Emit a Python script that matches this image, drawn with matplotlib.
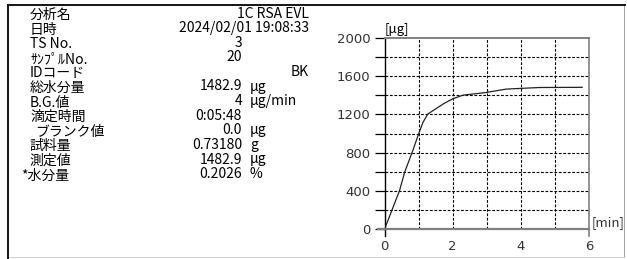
import numpy as np
import matplotlib.pyplot as plt
from matplotlib.patches import Rectangle

plt.rcParams['font.family'] = ['Noto Sans CJK JP', 'DejaVu Sans']

# report fields
labels = ['分析名', '日時', 'TS No.', 'ｻﾝﾌﾟﾙNo.', 'IDコード', '総水分量', 'B.G.値',
          '滴定時間', 'ブランク値', '試料量', '測定値', '*水分量']
values = ['1C RSA EVL', '2024/02/01 19:08:33', '3', '20', 'BK', '1482.9', '4',
          '0:05:48', '0.0', '0.73180', '1482.9', '0.2026']
units = ['', '', '', '', '', 'μg', 'μg/min', '', 'μg', 'g', 'μg', '%']

# titration curve (min, μg)
t_min = [0, 0.44, 0.59, 0.83, 1.0, 1.13, 1.27, 1.42, 1.72, 2.0, 2.3, 2.98, 3.56, 3.95, 4.54, 5.8]
water = [0, 403, 595, 821, 995, 1117, 1203, 1238, 1308, 1362, 1400, 1428, 1463, 1470, 1480, 1482]

y_ticks = [0, 400, 800, 1200, 1600, 2000]
x_ticks = [0, 2, 4, 6]

W, H = 627, 259
fig = plt.figure(figsize=(W / 100, H / 100), dpi=100)


def px_box(x, y, w, h, color):
    # filled box in pixel coords (origin top-left)
    fig.patches.append(Rectangle((x / W, 1 - (y + h) / H), w / W, h / H,
                                 transform=fig.transFigure, figure=fig,
                                 facecolor=color, edgecolor='none', zorder=10))


# sunken panel frame
px_box(7, 4, 2, 255, '#1a1a1a')
px_box(7, 4, 619, 2, '#1a1a1a')
px_box(624, 6, 1, 252, '#a0a0a0')
px_box(9, 257, 616, 1, '#d0d0d0')

# text block
lab_x = [30, 30, 30, 30, 30, 30, 30, 30, 35, 29, 29, 21]
wide = [True, True, False, False, True, False, False, False, False, False, False, False]
for i, (lab, val, unit) in enumerate(zip(labels, values, units)):
    y = 1 - (15 + i * 14.6) / H
    fig.text(lab_x[i] / W, y, lab, fontsize=10, ha='left', va='center')
    vx = 309 if wide[i] else 242
    fig.text(vx / W, y + 1.5 / H, val, fontsize=10, ha='right', va='center')
    if unit:
        fig.text(250 / W, y + 1.5 / H, unit, fontsize=10, ha='left', va='center')

# graph
ax = fig.add_axes([384.5 / W, (H - 229.3) / H, 204.5 / W, 191.6 / H])
for v in range(200, 2000, 200):
    ax.axhline(v, color='black', lw=0.8, ls=(0, (2.5, 1.5)), zorder=1)
for v in range(1, 6):
    ax.axvline(v, color='black', lw=0.8, ls=(0, (2.5, 1.5)), zorder=1)

ax.plot(t_min, water, color='#222222', lw=0.9, zorder=3)

ax.set_xlim(0, 6)
ax.set_ylim(0, 2000)
ax.set_yticks(y_ticks)
ax.set_yticks(range(0, 2001, 200), minor=True)
ax.set_xticks(x_ticks)
ax.tick_params(axis='y', which='both', length=7, width=0.9, color='black',
               labelsize=9.5, labelcolor='#333333', pad=3)
ax.tick_params(axis='x', which='major', length=0, labelsize=9.5, labelcolor='#333333', pad=8)
for lab in ax.get_xticklabels() + ax.get_yticklabels():
    lab.set_family('DejaVu Sans')

for s in ['top', 'right', 'bottom']:
    ax.spines[s].set_color('#808080')
ax.spines['bottom'].set_linewidth(1.6)
ax.spines['top'].set_linewidth(1.4)
ax.spines['right'].set_linewidth(1.2)
ax.spines['left'].set_color('black')
ax.spines['left'].set_linewidth(1.0)

# spine overhangs below the axis
ax.plot([0, 0], [0, -75], color='black', lw=1.0, clip_on=False)
ax.plot([6, 6], [0, -75], color='#808080', lw=1.2, clip_on=False)
ax.plot([0, -0.2], [0, 0], color='#808080', lw=1.6, clip_on=False)

ax.text(0, 2015, '[μg]', fontsize=9.5, ha='left', va='bottom')
ax.text(6.08, 5, '[min]', fontsize=9.5, ha='left', va='bottom', color='#333333')

fig.savefig('out.png', dpi=100)
